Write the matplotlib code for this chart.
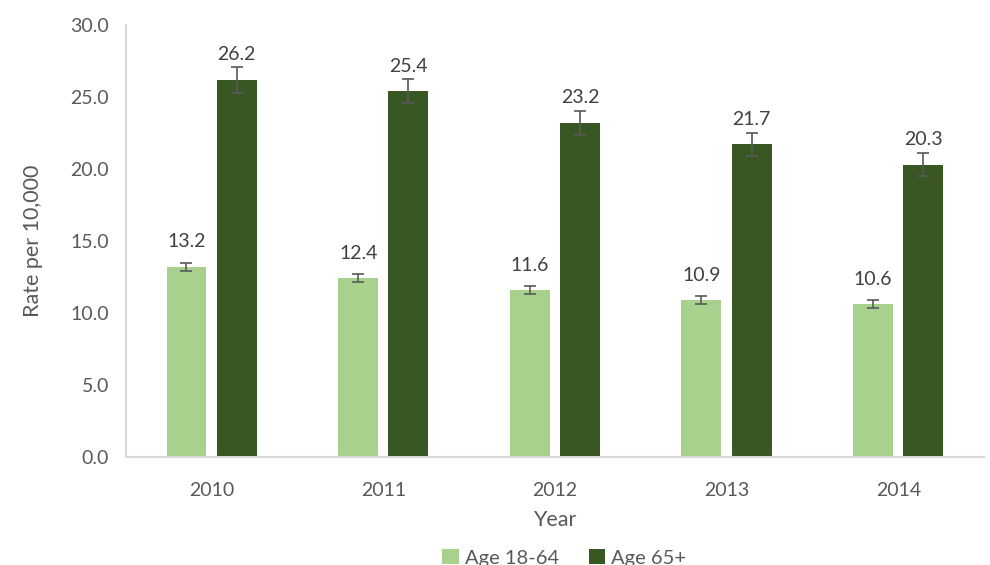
import matplotlib.pyplot as plt
import numpy as np

plt.rcParams['font.family'] = ['Lato', 'DejaVu Sans']

years = ['2010', '2011', '2012', '2013', '2014']
age_18_64 = [13.2, 12.4, 11.6, 10.9, 10.6]
age_65 = [26.2, 25.4, 23.2, 21.7, 20.3]
err_18_64 = [0.3, 0.28, 0.28, 0.27, 0.27]
err_65 = [0.9, 0.85, 0.85, 0.8, 0.8]

light = '#a9d18e'
dark = '#385723'
grey = '#595959'

fig = plt.figure(figsize=(9.9, 5.65), dpi=100)
ax = fig.add_axes([0.127, 0.191, 0.867, 0.765])

x = np.arange(len(years))
w = 0.233
off = 0.146
b1 = ax.bar(x - off, age_18_64, w, color=light, label='Age 18-64',
            yerr=err_18_64, error_kw=dict(ecolor=grey, elinewidth=1.2, capsize=4, capthick=1.2))
b2 = ax.bar(x + off, age_65, w, color=dark, label='Age 65+',
            yerr=err_65, error_kw=dict(ecolor=grey, elinewidth=1.2, capsize=4, capthick=1.2))

for bars, vals in [(b1, age_18_64), (b2, age_65)]:
    for r, v in zip(bars, vals):
        ax.annotate(f'{v:.1f}', (r.get_x() + r.get_width() / 2, v), xytext=(0, 14),
                    textcoords='offset points', ha='center', va='baseline',
                    fontsize=14, color='#404040')

ax.set_xlim(-0.5, 4.5)
ax.set_ylim(0, 30)
ax.set_yticks(np.arange(0, 30.1, 5))
ax.set_yticklabels([f'{t:.1f}' for t in np.arange(0, 30.1, 5)])
ax.set_xticks(x)
ax.set_xticklabels(years)
ax.tick_params(length=0, labelsize=14, labelcolor=grey)
ax.tick_params(axis='x', pad=18)
ax.tick_params(axis='y', pad=12)
for s in ['top', 'right']:
    ax.spines[s].set_visible(False)
for s in ['left', 'bottom']:
    ax.spines[s].set_color('#d9d9d9')
    ax.spines[s].set_linewidth(1.5)

ax.set_ylabel('Rate per 10,000', fontsize=15.5, color=grey, labelpad=20)
ax.set_xlabel('Year', fontsize=15.5, color=grey, labelpad=8)

fig.legend(loc='lower center', bbox_to_anchor=(0.57, -0.035), ncol=2, frameon=False,
           fontsize=14.5, handlelength=0.8, handleheight=0.8, columnspacing=1.5,
           handletextpad=0.3, labelcolor=grey)

fig.savefig('out.png', dpi=100)
